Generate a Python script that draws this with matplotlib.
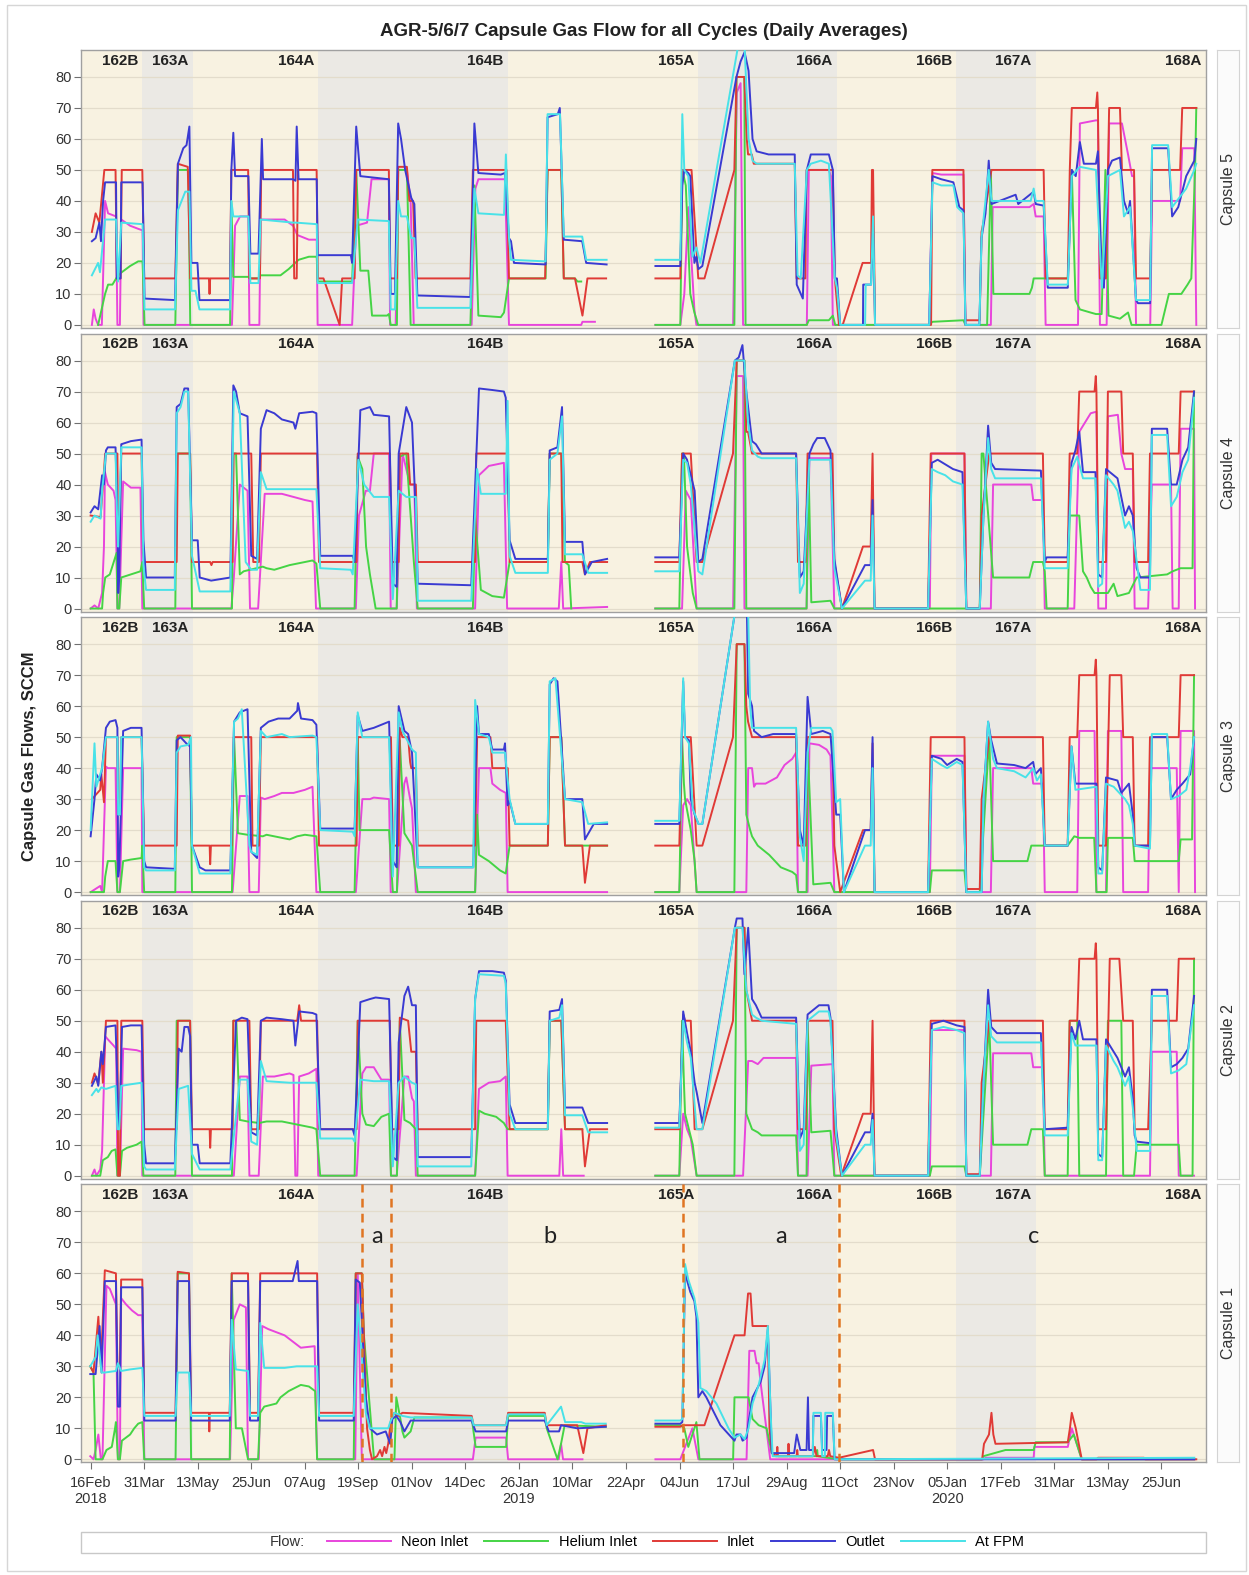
import datetime as dt
import numpy as np
import matplotlib
matplotlib.use("Agg")
import matplotlib.pyplot as plt
from matplotlib.lines import Line2D
from matplotlib.patches import Rectangle

plt.rcParams["font.family"] = ["Liberation Sans", "DejaVu Sans"]

NAN = float("nan")
START = dt.date(2018, 2, 16)          # x values below are days after this date
X_LIM = (-7.5, 895.8)
Y_LIM = (-1, 88.7)

CYCLE_LABELS = ["162B", "163A", "164A", "164B", "165A", "166A", "166B", "167A", "168A"]
CYCLE_ENDS = [41.5, 82.3, 182.9, 335.2, 488, 599.3, 695.4, 759, 895.8]
TICK_DAYS = list(range(0, 861, 43))

EVENT_DAYS = [218, 241.6, 475.8, 601]                  # orange dashed lines, capsule 1
EVENT_NOTES = [(230, "a"), (368.6, "b"), (554.2, "a"), (757.4, "c")]

SERIES = ["Neon Inlet", "Helium Inlet", "Inlet", "Outlet", "At FPM"]
COLORS = ["#e845dc", "#45d445", "#e03a36", "#3a3ad2", "#48e2e8"]

# ---------------- Capsule 5 ----------------
CAP5_NEON = [(1,0),(2.5,5),(4,2),(6,0),(9,0),(11.6,40),(14,36),(20.4,35),(21.5,0),(23.5,0),(24.6,34),(31.7,32),(38.2,31),(41.7,30.5),(42.5,0),(113.5,0),(116,32),(120,35),(126.7,35),(127.5,0),(135.5,0),(136.5,34),(155.8,34),(162.6,32),(166,29),(175.3,27.5),(181.6,27.5),(182.3,0),(210,0),(213.3,32),(222,33),(225.6,47),(239.5,47),(240.5,0),(245,0),(247,50),(254,50),(257,40),(259.5,0),(306,0),(309,44),(311.4,47),(332.7,47),(336,0),(394,0),(395,1),(405,1),
             (430,NAN),
             (453.6,0),(473.6,0),(476.8,10),(480,38),(484.9,5),(486.5,0),(516,0),(519,75),(522,78),(524,0),(575.2,0),(576.8,50),(592.9,50),(594.5,48),(596.1,0),(673.5,0),(676.1,49),(683.2,48.5),(701,48.5),(702.6,0),(723,0),(724.5,38),(754,38),(757.4,39),(759,35),(765.4,35),(767,0),(793,0),(794.5,65),(807.4,66),(809,66),(810.6,0),(816,0),(818,65),(828.3,65),(833.2,55),(836.4,48),(838,48),(839.6,0),(851,0),(852.5,40),(875,40),(876.7,57),(886.4,57),(888,0)]
CAP5_HELIUM = [(6,0),(11.6,10),(14,13),(17.5,13),(22,16),(25,17),(31.7,19),(38.2,20.5),(41.7,20.5),(43.3,0),(68,0),(70.1,50),(78.5,50),(80,0),(112,0),(113,40),(114.6,15.5),(126.7,15.5),(128.3,15),(134.8,15),(136.5,16),(152.5,16),(159,18),(167,21),(175.3,22),(181.6,22),(182.3,14),(210,14),(213.3,50),(216.6,17.5),(223,17.5),(226,3),(238,3),(239.5,3.5),(241,0),(246,0),(247,50),(254,50),(257,0),(305,0),(308.2,45),(311.4,3),(329.4,2.5),(332,4),(336,15),(365.4,15),(367,50),(378,50),(380,15),(389,15),(391,14),(394,14),
               (430,NAN),
               (453.6,0),(473.6,0),(475.2,50),(478,45),(481.6,10),(484.9,4),(488,0),(517,0),(518.7,80),(525,80),(526,0),(575.2,0),(576.8,1.5),(592.9,1.5),(596.1,3),(598,0),(673.5,0),(676.1,1),(701,1.5),(702.6,0),(720,0),(723,50),(725,10),(754,10),(756,12),(757.4,15),(784.8,15),(788,50),(791,8),(794.5,5),(803,4),(807.4,3.5),(812,3.5),(815,50),(817.5,3),(826.7,2),(829.9,3),(833.2,4),(836,0),(860,0),(866,10),(876,10),(881,13),(884,15),(887,50),(888,70)]
CAP5_INLET = [(1,30),(4,36),(7,33),(11,50),(20,50),(21,15),(24,15),(25,50),(41.5,50),(43,15),(68,15),(70,52),(78,51),(80,15),(95,15),(95.5,10),(96,15),(112,15),(113,50),(126.5,50),(127.5,15),(136,15),(137,50),(162.5,50),(163.5,15),(165.5,15),(166.5,50),(181.5,50),(182.5,15),(187,15),(200,0),(202,15),(212,15),(213.3,50),(239.5,50),(240.5,15),(246,15),(247,51),(254,51),(256,40),(259,40),(261,15),(305,15),(307,50),(334,50),(336,15),(365,15),(367,50),(378,50),(380,15),(389,15),(395,3),(399,15),(414,15),
              (430,NAN),
              (453.6,15),(473.6,15),(475,50),(482.6,50),(488,15),(493,15),(517,50),(518.7,80),(525,80),(527,60),(528,55),(531,55),(532.6,52),(565.5,52),(567,15),(574,15),(575,50),(596,50),(597.7,15),(601,0),(604,0),(620,20),(626.8,20),(627.5,50),(628.4,50),(630,0),(675,0),(676,50),(701,50),(702.5,1.5),(714,1.5),(715.5,30),(717,33),(723.5,50),(765.4,50),(767,15),(784.8,15),(786.4,50),(788,70),(807.4,70),(808.5,75),(809,70),(810.6,15),(815.4,15),(818,70),(826.7,70),(828.3,50),(838,50),(839.6,15),(850.9,15),(852.5,50),(875,50),(876.7,70),(888,70)]
CAP5_OUTLET = [(1,27),(4,28),(7,33),(8.3,27),(10,40),(11.6,46),(20.4,46),(21,15),(24,15),(24.6,46),(41.7,46),(43.3,8.5),(67.8,8),(70.1,52),(74.4,57),(77,58),(79.3,64),(80.9,20),(85.8,20),(87.4,8),(112,8),(113,50),(114.6,62),(116,48),(126.7,48),(128.3,23),(134.8,23),(136.5,47),(137.5,60),(138.5,47),(162.6,47),(164.5,46.5),(165.5,64),(167,47),(181.6,47),(182.3,22.5),(209,22.5),(210,20),(213.3,64),(216.6,48),(239.5,47),(241,10),(244.4,10),(247,65),(249.3,60),(252.6,50),(257.5,41),(260,39),(262.4,9.5),(305,9),(308.2,65),(311.4,49),(329.4,48.5),(332.7,49),(336,28),(337.6,27),(340,20),(365.4,19.5),(367,67),(375.2,68),(376.8,70),(380,27.5),(394.8,27),(398,20),(414.4,19.5),
               (430,NAN),
               (453.6,19),(473.6,19),(475.2,45),(476.8,50),(480,49),(481.6,48),(484.9,20),(486.5,22),(488.1,18),(491.3,19),(518.7,80),(522,85),(525.2,88),(528.4,82),(531.6,60),(534.9,56),(544.5,55),(565.5,55),(567.1,13),(572,8.5),(575.2,50),(578.4,55),(592.9,55),(596.1,50),(597.7,15),(599.4,15),(602,0),(620.3,0),(620.5,13),(626.8,13),(628.4,32),(630,0),(673.5,0),(676.1,48),(683.2,47),(692.9,46),(697.7,38),(701,37),(702.6,0),(713.8,0),(715.5,28),(718.7,36),(721.3,53),(723.5,39),(742.9,42),(745,39),(757.4,43),(759,39),(765.4,38.5),(768.7,12),(784.8,12),(788,50),(791.2,48),(794.5,59),(797.7,52),(807.4,52),(809,56),(812.2,15),(813.8,12),(817,50),(820.3,53),(826.7,54),(829.9,40),(833.2,36),(834.8,40),(839.6,8),(841.2,7),(850.9,7),(852.5,57),(865.4,57),(868.6,35),(873.5,38),(879.9,48),(886.4,53),(888,60)]
CAP5_FPM = [(1,16),(6,20),(7.5,17),(11.6,34),(20.4,34),(22,14),(24.6,33),(41.7,32.5),(43.3,5),(67.8,5),(70.1,37),(76,43),(79.3,43),(80.9,11),(84.2,11),(87.4,5),(112,5),(113,40),(114.6,35),(126.7,35),(128.3,13.5),(134.8,13.5),(136.5,34),(162.6,33),(165,33),(181.6,32.5),(182.3,13.5),(210,13.5),(214.5,34),(239.5,33.5),(241,5),(244.4,5),(247,40),(249.3,35),(254,35),(257.5,28),(260,28),(262.4,5.5),(305,5.5),(308.2,44),(311.4,36),(332,35.5),(333.5,55),(336,28),(337.6,21),(365.4,20.5),(367,68),(377,68),(380,28.5),(394.8,28.5),(398,21),(414.4,21),
            (430,NAN),
            (453.6,21),(473.6,21),(475.2,68),(476.8,50),(480,48),(483.3,22),(486.5,25),(489.7,20),(520,90),(525.2,90),(528.4,60),(531.6,53),(534.9,52),(565.5,52),(567.8,16),(570.3,15),(575.2,50),(578.4,52),(586.5,53),(592.9,52),(597.7,15),(599.4,12),(602,0),(622,0),(622.5,13),(626.8,13),(628.4,35),(630,0),(673.5,0),(676.1,46),(683.2,45),(692.9,45),(696,38),(701,36),(702.6,0),(713.8,0),(715.5,28),(721.3,50),(723.5,40),(755,40),(757.4,44),(759,40),(765.4,40),(768.7,13),(784.8,13),(788,48),(794.5,51),(807.4,50),(812.2,12),(817,48),(826.7,50),(829.9,35),(834.8,38),(839.6,8),(850.9,8),(852.5,58),(865.4,58),(868.6,38),(879.9,44),(886.4,50),(888,52)]

# ---------------- Capsule 4 ----------------
CAP4_NEON = [(0,0),(3.1,1),(6.1,0),(9.2,5),(10.7,20),(11.5,44),(13.8,40),(18.4,38),(20,35),(21.5,0),(23,0),(26.1,41),(29.2,40),(32.3,39),(40,39),(41.5,0),(113,0),(115,10),(119.8,40),(126,38),(128,0),(134.5,0),(139.8,37),(153.6,37),(162.9,36),(172.1,35),(178.2,34.5),(181,0),(213,0),(215.5,30),(221,38),(224.3,38),(227.4,50),(239.7,50),(241,0),(245.8,0),(250.5,50),(253.5,45),(256.6,40),(260,40),(262,0),(308.8,0),(311.9,43),(319.8,46),(331.9,47),(334.5,0),(376,0),(378,15),(379.5,0),(414.8,0.5),
             (430,NAN),
             (453.5,0),(472.8,0),(475,0),(478,38),(482,35),(486.7,0),(516,0),(518.9,75),(524,75),(525.1,0),(575,0),(577.3,48.5),(594.2,48.5),(597.3,0),(674,0),(675.2,50),(701.8,50),(703.3,0),(723,0),(724.8,40),(755.5,40),(757,35),(764.8,35),(766.3,0),(790,0),(794,57),(803.2,63),(807.8,63.5),(809.3,0),(815.5,0),(817,62),(825,62.5),(827.8,50),(830.8,45),(837,45),(838.5,0),(849.3,0),(852.3,40),(867.7,40),(869,0),(873.9,0),(875.4,58),(886.2,58),(887,0)]
CAP4_HELIUM = [(0,0),(9.2,0),(10,5),(11.7,10),(15.4,11),(20.9,18),(21.5,0),(23,0),(24.6,10),(32.3,11),(40,12),(41.5,15),(43,0),(68,0),(69.1,50),(79.9,50),(81.4,0),(113.5,0),(114.6,50),(116.8,50),(119.8,11),(122.9,12),(138.3,13.5),(141.3,13),(147.5,12.5),(159.8,14),(172.1,15),(178.2,15.5),(181.3,14.5),(184.4,0),(212,0),(214.5,49),(218.2,45),(221.2,20),(224.3,11),(228.9,0),(245.8,0),(248.3,49),(253.5,50),(259.6,15),(262.7,0),(307,0),(308.8,30),(313.4,6),(322.6,4),(331.9,3.5),(336.5,15),(367.2,15),(368.7,50),(378,50),(381,15),(384,14),(386,0),
               (430,NAN),
               (453.5,0),(472.8,0),(475,50),(476.5,50),(479,20),(483.6,5),(486.7,0),(517,0),(518.9,80),(525.1,80),(526.6,0),(575,0),(576.5,48),(578.8,2),(594.2,2.5),(597.3,0),(714.1,0),(715.6,50),(717,50),(724.8,10),(753.9,10),(757,15),(764.8,15),(766.3,12),(767.8,0),(784.7,0),(786.3,30),(794,30),(797,12),(800,10),(803.2,7),(806.3,5),(809.3,5),(817,5),(821.6,8),(824.7,4),(833.9,5),(840.1,10),(864.6,11),(869,12),(875.4,13),(885,13),(886.2,70)]
CAP4_INLET = [(0,30),(8,29.5),(11.7,50),(21.5,50),(22,22),(23,22),(24.6,50),(40.9,50),(42,18),(43,15),(69.1,15),(70,50),(79.9,50),(81.4,15),(96,15),(97,14),(98,15),(114,15),(114.8,50),(129,50),(130.6,15),(135.2,15),(136.7,50),(181.9,50),(183.4,15),(213.6,15),(214.5,50),(240.3,50),(241.8,15),(247.4,15),(248.3,50),(255,50),(256.6,40),(261.2,40),(262.7,15),(308.8,15),(309.7,50),(335,50),(336.5,15),(367.2,15),(368.7,50),(378,50),(379,15),(394.9,15),(397,11),(401,15),(414.8,15),
              (430,NAN),
              (453.5,15),(472.8,15),(475,50),(482,50),(486.7,15),(491.3,15),(515.9,50),(518.9,80),(525.1,80),(526.6,57),(528,57),(531.2,50),(566.6,50),(568.1,15),(574.2,15),(575.8,50),(595.8,50),(597.3,15),(603.4,0),(620.3,20),(626.5,20),(628,50),(629.6,0),(672.6,0),(674.7,50),(701.8,50),(703.3,0),(714.1,0),(715.6,30),(721.7,50),(764.8,50),(766.3,15),(784.7,15),(786.3,50),(792.4,50),(794,70),(806.3,70),(807.3,75),(807.8,70),(809.3,15),(815.5,15),(817,70),(827.8,70),(829.3,50),(837,50),(838.5,15),(849.3,15),(850.8,50),(873.9,50),(875.4,70),(886.2,70)]
CAP4_OUTLET = [(0,31),(3.1,33),(6.1,32),(9.2,43),(10.7,40),(12.3,51),(13.8,52),(20,52),(21.5,30),(22.1,5),(23,10),(24.6,53),(32.3,54),(40.9,54.5),(42.4,22),(44.5,10),(67.6,10),(69.1,65),(72.2,66),(75.3,71),(78.3,71),(81.4,22),(86,22),(87.6,10),(92.2,9.5),(96.8,9),(112.2,10),(114.6,72),(116.8,70),(119.8,63),(126,62),(129,17),(133.7,16),(136.7,58),(141.3,64),(147.5,63),(153.6,61),(162.9,60),(164.4,58),(167.5,63),(178.2,63.5),(181.3,63),(184.4,17),(210.5,17),(212,15),(216.6,64),(224.3,65),(227.4,62.5),(239.7,62),(242.7,8),(245.8,7),(247.4,50),(253.5,65),(258.1,60),(261.2,30),(262.7,8),(305.7,7.5),(311.9,71),(322.6,70.5),(331.9,70),(333.4,68),(336.5,22),(341.1,16),(367.2,16),(368.7,51),(374.9,52),(378.6,65),(381,21.5),(394.9,21.5),(397,11),(402.5,15),(414.8,16),
               (430,NAN),
               (453.5,16.5),(472.8,16.5),(475.9,50),(479,48),(482,43),(485.1,38),(488,15),(491.3,16),(517.4,80),(520.5,81),(523.5,85),(526.6,70),(531.2,54),(534.3,53),(538.9,50),(566.6,50),(569.6,10),(572.7,12),(577.3,50),(580.4,53),(583.5,55),(589.6,55),(594.2,51),(597.3,16),(603.4,0),(621.9,14),(626.5,14),(628,35),(629.6,0),(672.6,0),(675.6,47),(680.3,48),(686.4,46.5),(692.6,45),(700.2,44),(703.3,0),(714.1,0),(717.1,30),(720.8,59),(723.3,47),(726.4,45),(763.2,44.5),(766.3,15),(767.8,16.5),(784.7,16.5),(787.8,47),(790.9,51),(794,57),(797,44),(807,44),(809.3,11),(812.4,10),(815.5,45),(821.6,43),(824.7,42),(830.8,30),(833.9,33),(837,30),(840.1,13),(843.1,10),(850.8,10),(852.3,58),(864.6,58),(867.7,40),(872.3,40),(876.9,48),(881.5,52),(886.2,70)]
CAP4_FPM = [(0,28),(3.1,30),(8,29),(9.2,38),(12.3,50),(20,50),(21.5,25),(22.1,20),(24.6,52),(40.9,52),(42.4,14),(44.5,6),(67.6,6),(69.1,63),(72.2,65),(75.3,70),(78.3,70),(81.4,17),(87.6,5.5),(112.2,5.5),(115,70),(119.8,63),(124.5,15),(129,12.5),(133.7,12.5),(136.7,44),(141.3,38.5),(181.3,38.5),(184.4,13),(209,12.5),(210.5,11),(215,48),(219.7,40),(227.4,36),(239.7,36),(242.7,3),(247.4,38),(253.5,36),(261.2,36),(262.7,2.5),(305.7,2.5),(310.4,45),(313.4,37),(333.4,37),(334.9,67),(336.5,17),(341.1,11.5),(367.2,11.5),(368.7,48),(374.9,50),(378.6,62),(381,17.5),(394.9,17.5),(399.6,11.5),(414.8,11.5),
            (430,NAN),
            (453.5,12),(472.8,12),(475.9,48),(479,47),(482,40),(488,12),(491.3,11),(517.4,80),(525.1,80),(528,60),(531.2,51),(535.8,49),(538.9,48.5),(566.6,48.5),(569.6,5),(572.7,8),(577.3,48),(594.2,48),(597.3,13),(603.4,0),(621.9,9),(626.5,9),(628,30),(629.6,0),(672.6,0),(675.6,45),(680.3,44),(686.4,43),(692.6,41),(700.2,40),(703.3,0),(714.1,0),(717.1,30),(720.8,55),(723.3,45),(726.4,42),(763.2,42),(766.3,13),(784.7,13),(787.8,45),(792.4,49),(797,42),(807,42),(809.3,7),(812.4,8),(815.5,43),(821.6,40),(824.7,38),(830.8,26),(833.9,28),(837,25),(843.1,6),(850.8,6),(852.3,56),(864.6,56),(867.7,33),(872.3,36),(876.9,44),(881.5,48),(886.2,68)]

# ---------------- Capsule 3 ----------------
CAP3_NEON = [(0,0),(7.7,2),(9.2,0),(10.7,20),(12.3,40.5),(13.8,40),(20,40),(21.5,0),(23.5,0),(26.1,40),(40.9,40),(41.5,0),(114,0),(119.8,31),(126,31),(127.5,0),(135,0),(136.7,30.5),(139.8,30),(147.5,31),(153.6,32),(162.9,32),(172.1,33),(178.2,34),(181.3,0),(213,0),(218.2,30),(224.3,30),(227.4,30.5),(239.7,30),(241,0),(246,0),(251.9,35),(253.5,37),(256.6,30),(258.1,27),(261.2,0),(308.8,0),(311.9,40),(321.1,40),(322.6,35),(328.8,33),(333.4,32),(334.9,0),(414.8,0),
             (430,NAN),
             (453.5,0),(472.8,0),(475.9,28),(479,30),(482,28),(486.7,0),(526.6,0),(528.1,40),(531.2,40),(532.8,34),(534.3,35),(542,35),(551.2,37),(557.3,41),(563.5,43),(566.6,45),(568.1,0),(575.8,0),(577.3,48),(585,47.5),(591.1,46),(594.2,44),(597.3,0),(674,0),(675.6,44),(701.8,44),(703.3,0),(723,0),(724.8,40),(755.5,40),(757,35),(764.8,35),(766.3,0),(792.4,0),(794,52),(806.3,52),(807.8,0),(815.5,0),(817,52),(827.8,52),(829.3,0),(849.3,0),(850.8,40),(872.3,40),(873.9,0),(875.4,52),(886.2,52),(887,0)]
CAP3_HELIUM = [(0,0),(10.7,0),(11.7,5),(13.8,10),(20,10),(21.5,0),(23.5,0),(26.1,10),(32.3,10.5),(40.9,11),(41.5,15),(43,0),(68,0),(69.1,50),(79.9,50),(81.4,0),(113.5,0),(115.2,50),(118.3,19),(126,18.5),(138.3,18),(141.3,18.5),(153.6,17.5),(159.8,17),(165.9,18),(172.1,18.5),(181.3,18),(184.4,0),(212,0),(214.5,50),(216,20),(239.7,20),(242.7,0),(246,0),(248.3,49),(252,19),(258.1,15),(262.7,0),(308.8,0),(310.4,25),(311.9,12),(319.8,10),(328.8,7),(333.4,6),(336.5,15),(367.2,15),(368.7,50),(378,50),(381,15),(414.8,15),
               (430,NAN),
               (453.5,0),(472.8,0),(475,50),(476.5,35),(477.4,30),(482,20),(485.1,10),(486.7,0),(517,0),(518.9,80),(525.1,80),(526.6,25),(529.7,20),(531.2,18),(535.8,15),(545,12),(554.3,8),(563.5,6.5),(566.6,5.5),(568.1,0),(575,0),(575.8,48),(580.4,2.5),(594.2,3),(597.3,0),(674,0),(675.6,7),(701.8,7),(703.3,0),(714.1,0),(721.7,50),(724.8,10),(752.4,10),(755.5,15),(784.7,15),(790,18),(794,17.5),(806,17.5),(807.8,0),(816,0),(817,17.5),(837,17.5),(838.5,10),(873.9,10),(875.4,17),(884.6,17),(886.2,70)]
CAP3_INLET = [(1,30),(7.7,33),(8.6,38),(10.7,29),(12.3,50),(21.5,50),(22.1,25),(23.5,25),(24.6,50),(40.9,50),(43,15),(69.1,15),(70,50.5),(79.9,50.5),(81.4,15),(95.6,15),(96,9),(96.6,15),(113.2,15),(115,50),(129,50),(130,15),(135.2,15),(136.7,50),(181.9,50),(183.4,15),(213.6,15),(214.5,50),(241.2,50),(242.7,15),(247.4,15),(248.3,53),(250.4,50),(255,50),(256.6,42),(257.5,40),(261.2,40),(262.7,15),(308.8,15),(310.4,50),(321.1,50),(322.6,40),(335,40),(336.5,15),(367.2,15),(368.7,50),(378,50),(381,15),(394.9,15),(397,3),(401,15),(414.8,15),
              (430,NAN),
              (453.5,15),(472.8,15),(475,50),(482,50),(486.7,15),(491.3,15),(515.9,50),(518.9,80),(525.1,80),(526.6,60),(528,55),(531.2,50),(566.6,50),(568.1,15),(574.2,15),(575.8,50),(595.8,50),(597.3,15),(602,0),(620.3,20),(626.5,20),(628,48),(629.6,0),(672.6,0),(674.7,50),(701.8,50),(703.3,1),(714.1,1),(715.6,30),(721.7,50),(764.8,50),(766.3,15),(784.7,15),(786.3,50),(792.4,50),(794,70),(806.3,70),(807.3,75),(807.8,70),(809.3,15),(815.5,15),(818.5,70),(827.8,70),(829.3,50),(837,50),(838.5,15),(849.3,15),(850.8,50),(873.9,50),(875.4,70),(886.2,70)]
CAP3_OUTLET = [(0,18),(3.1,30),(4.6,38),(7.7,36),(9.2,40),(12.3,53),(15.4,55),(20,55.5),(21.5,53),(22.1,5),(23,8),(26.1,52),(32.3,53),(40.9,53),(43,10),(44.5,8),(67.6,7.5),(69.1,49),(72.2,50),(76.8,48),(79.9,47),(81.4,15),(87.6,8),(92.2,7),(112.2,7),(115.2,55),(119.8,58),(126,59),(129,13),(133.7,11),(136.7,53),(142.9,55),(150.6,56),(159.8,56),(165.9,58.5),(166.5,61),(169,56),(178.2,55.5),(181.3,54),(184.4,20.5),(212,20.5),(214.5,57),(218.2,52),(227.4,53),(236.6,54.5),(239.7,55),(242.7,10),(245.8,8),(247.4,60),(252,52),(255,51),(258.1,45),(262.7,8),(307.3,8),(310.4,60),(311.9,51),(319.8,51),(322.6,46),(331.9,46),(332.8,48),(334.9,28),(336.5,29.5),(341.1,22),(367.2,22),(368.7,67),(371.8,69),(374.9,68),(381,30),(394.9,30),(397,17),(404.1,22),(414.8,22),
               (430,NAN),
               (453.5,22),(472.8,22),(475.9,68),(477.4,50),(480.5,49),(482,30),(485.1,25),(488.2,22),(491.3,22),(517.4,90),(527.1,90),(528.1,64),(531.2,60),(532.8,52),(538.9,50),(548.1,51),(566.6,51),(569.6,20),(572.7,15),(575.8,63),(578.8,51),(588,52),(594.2,51),(598.8,25),(602,25),(605,0),(621.9,20),(626.5,20),(628,50),(629.6,0),(672.6,0),(675.6,44),(683.3,43),(687.9,41),(695.6,43),(700.2,42),(703.3,0),(715.6,0),(717.1,30),(720.8,55),(723.3,49),(727.9,41.5),(741.7,41),(750.9,40),(757,42),(758.6,38),(763.2,40),(766.3,15),(784.7,15),(787.8,47),(790.9,35),(807.8,35),(809.3,8),(812.4,7),(815.5,37),(824.7,36),(827.8,32),(833.9,35),(837,25),(838.5,15),(850.8,15),(852.3,50),(864.6,50),(867.7,30),(872.3,33),(876.9,35),(883.1,38),(886.2,50)]
CAP3_FPM = [(0,20),(3.1,48),(4.6,34),(6.1,36),(9.2,40),(12.3,50),(21.5,50),(22.1,25),(23.5,25),(24.6,50),(40.9,50),(43,8),(44.5,7),(67.6,7),(69.1,45),(72.2,47),(78.3,47.5),(80.5,50),(81.4,15),(87.6,6),(112.2,6),(115.2,55),(118.3,56),(121.4,59),(127.5,15),(129,13),(133.7,12),(136.7,52),(141.3,50),(153.6,51),(159.8,50),(178.2,50.5),(181.3,50),(184.4,20),(210.5,19.5),(212,18),(214.5,58),(218.2,50),(239.7,50),(242.7,5),(247.4,58),(250.4,52),(258.1,46),(261.2,45),(262.7,8),(307.3,8),(308.8,62),(311.9,51),(319.8,50),(322.6,45),(332.8,45),(336.5,30),(341.1,22),(367.2,22),(368.7,68),(373.3,69),(381,30),(394.9,29),(399.6,22),(414.8,22.5),
            (430,NAN),
            (453.5,23),(472.8,23),(475.9,69),(477.4,50),(480.5,48),(483.6,27),(488.2,22),(491.3,22),(517.4,90),(528.1,90),(529.7,60),(531.2,53),(566.6,53),(569.6,18),(572.7,10),(575.8,45),(578.8,53),(594.2,53),(595.8,52),(598.8,29),(602,30),(605,0),(621.9,15),(626.5,15),(628,40),(629.6,0),(672.6,0),(675.6,43),(683.3,41),(687.9,40),(695.6,42),(700.2,41),(703.3,0),(715.6,0),(717.1,30),(720.8,55),(724.8,43),(727.9,40),(741.7,39),(750.9,37),(757,40),(760,36),(763.2,38),(766.3,15),(784.7,15),(787.8,47),(790.9,33),(807.8,34),(809.3,6),(812.4,6),(815.5,35),(821.6,34),(830.8,30),(833.9,28),(837,22),(838.5,15),(850.8,14),(852.3,51),(864.6,51),(867.7,30),(873.9,31),(880,33),(883.1,40),(886.2,50)]

# ---------------- Capsule 2 ----------------
CAP2_NEON = [(1,0),(3.1,2),(4.6,0),(7.7,2),(9.2,8),(11.7,45),(13.8,44),(18.4,42),(20.5,41),(21.5,0),(23.5,0),(26.1,41),(36.9,40.5),(40.9,40),(41.5,0),(115,0),(119.8,32),(126,32),(127.5,0),(135,0),(138.3,32),(147.5,32),(159.8,33),(162.9,32.5),(164.4,0),(166,0),(167.5,32),(175.2,33),(181.3,34.5),(182.8,0),(213.6,0),(218.2,33),(221.2,35),(227.4,35),(233.5,31),(239.7,31),(241.2,0),(245.8,0),(252,32),(255,32),(258.1,25),(259.6,24),(261.2,0),(308.8,0),(311.9,28),(319.8,30),(328.8,30.5),(333.4,32),(334.9,0),(376.4,0),(378,15),(379.5,0),(396,0),
             (430,NAN),
             (453.5,0),(472.8,0),(475.9,20),(479,15),(482,12),(486.7,0),(524,0),(528.1,37),(531.2,37),(535.8,36),(540.4,38),(566.6,38),(568.1,0),(575.8,0),(578.8,35.5),(595.8,36),(597.3,0),(674,0),(675.6,47),(701.8,47),(703.3,0),(723,0),(724.8,39.5),(755.5,39.5),(757,35),(764.8,35),(766.3,0),(850.8,0),(852.3,40),(872.3,40),(873.9,0),(886.2,0)]
CAP2_HELIUM = [(1,0),(7.7,0),(9.8,5),(13.8,6),(16.9,8),(20,8.5),(21.5,0),(23.5,0),(25.2,8),(29.2,9),(36.9,10),(40.9,11),(42.4,0),(68,0),(69.1,50),(79.9,50),(81.4,0),(113.5,0),(114.6,50),(117,50),(119.8,18),(126,17.5),(135.2,17),(141.3,17.5),(153.6,17.5),(159.8,17),(165.9,16.5),(172.1,16),(178.2,15.5),(181.3,15),(184.4,0),(212,0),(214.5,50),(218.2,20),(221.2,16.5),(227.4,16),(233.5,19),(239.7,20),(241.2,0),(246,0),(248.3,50),(252,18),(256.6,17),(261.2,15),(262.7,0),(308.8,0),(311.9,21),(316.5,20),(325.7,19),(331.9,17),(334.9,15),(367.2,15),(368.7,50),(378,50),(381,15),(394.9,15),
               (430,NAN),
               (453.5,0),(472.8,0),(475,50),(476.5,30),(477.4,20),(483.6,10),(486.7,0),(517,0),(518.9,80),(525.1,80),(526.6,20),(531.2,15),(535.8,14),(538.9,13),(566.6,13),(568.1,0),(575,0),(575.8,50),(578.8,14),(594.2,14.5),(597.3,0),(674,0),(675.6,3),(701.8,3),(703.3,0),(714.1,0),(721.7,50),(724.8,10),(752.4,10),(755.5,15),(764.8,15),(766.3,0),(784.7,0),(786.3,50),(792.4,50),(794,0),(815.5,0),(817,50),(827.8,50),(829.3,0),(838,0),(840.1,10),(873.9,10),(875.4,0),(885,0),(886.2,70)]
CAP2_INLET = [(1,30),(3.1,33),(6.1,29.5),(8.6,40),(9.8,30),(12.3,50),(21.5,50),(22.1,0),(23.5,0),(24.6,50),(41.5,50),(43,15),(69.1,15),(70,50),(79.9,50),(81.4,15),(95.6,15),(96,9),(96.6,15),(114,15),(114.6,50),(127.5,50),(129,15),(135.2,15),(136.7,50),(165.9,50),(167.5,55),(169,50),(181.9,50),(183.4,15),(213.6,15),(214.5,50),(240.3,50),(241.8,15),(247.4,15),(248.3,51),(255,50),(257.5,40),(261.2,40),(262.7,15),(308.8,15),(309.7,50),(333.4,50),(336.5,15),(367.2,15),(368.7,50),(378,50),(381,15),(394.9,15),(397,3),(401,15),(414.8,15),
              (430,NAN),
              (453.5,15),(472.8,15),(475.9,52),(477.4,50),(482,50),(485.1,15),(491.3,15),(515.9,50),(518.9,80),(525.1,80),(526.6,60),(531.2,50),(566.6,50),(568.1,15),(574.2,15),(575.8,50),(595.8,50),(597.3,15),(602.8,0),(620.3,20),(626.5,20),(628,50),(629.6,0),(672.6,0),(674.7,50),(701.8,50),(703.3,0.5),(714.1,0.5),(715.6,30),(721.7,50),(764.8,50),(766.3,15),(784.7,15),(786.3,50),(792.4,50),(794,70),(806.3,70),(807.3,75),(807.8,70),(809.3,15),(815.5,15),(818.5,70),(826.2,70),(829.3,50),(837,50),(838.5,15),(849.3,15),(852.3,50),(872.3,50),(873.9,70),(886.2,70)]
CAP2_OUTLET = [(1,29),(4.6,32),(6.1,29),(8.6,40),(9.8,36),(12.3,48),(20,48.5),(21.5,30),(22.1,15),(23.5,20),(25.2,48),(32.3,48.5),(40.9,48.5),(43,10),(44.5,4),(67.6,4),(70.7,41),(73.1,40),(75.3,48),(78.3,48),(79.9,45),(81.4,10),(86,10),(87.6,4),(112.2,4),(116.8,50),(121.4,51),(126,50.5),(129,14),(133.7,13),(136.7,50),(141.3,51),(153.6,50.5),(162.9,50),(164.4,42),(167.5,53),(178.2,52.5),(181.3,52),(184.4,15),(210.5,15),(212,13),(216.6,56),(224.3,57),(228.9,57.5),(239.7,57),(242.7,6),(245.8,5),(247.4,43),(252,58),(255,61),(258.1,55),(261.2,55),(262.7,6),(305.7,6),(308.8,57),(311.9,66),(322.6,66),(331.9,65.5),(333.4,63),(336.5,23),(341.1,17),(367.2,17),(368.7,53),(376.4,53.5),(378.6,57),(381,22),(394.9,22),(399.6,17),(414.8,17),
               (430,NAN),
               (453.5,17),(472.8,17),(475.9,53),(479,46),(482,40),(485.1,30),(486.7,27),(491.3,17),(517.4,80),(518.9,83),(523.5,83),(525.1,65),(528.1,80),(531.2,57),(534.3,55),(538.9,51),(566.6,51),(569.6,12),(572.7,15),(575.8,52),(585,55),(592.6,55),(594.2,51),(598.8,15),(603.4,0),(621.9,14),(626.5,14),(628,20),(629.6,0),(672.6,0),(675.6,49),(684.9,50),(695.6,48.5),(701.8,48),(703.3,0),(714.1,0),(717.1,30),(720.8,60),(723.3,48),(727.9,46),(763.2,46),(766.3,15),(784.7,15.5),(787.8,48),(790.9,44),(794,50),(797,44),(807.8,44),(809.3,7),(812.4,6),(815.5,44),(821.6,40),(824.7,38),(830.8,32),(833.9,35),(837,25),(838.5,13),(840.1,11),(850.8,10.5),(852.3,60),(864.6,60),(867.7,35),(872.3,36),(876.9,38),(881.5,41),(886.2,58)]
CAP2_FPM = [(1,26),(4.6,28),(6.1,27),(8.6,28.5),(12.3,28),(20,29),(21.5,15),(23,15),(24.6,29),(32.3,29.5),(40.9,30),(43,3),(44.5,2),(67.6,2),(70.7,28),(78.3,29),(81.4,7),(87.6,2),(112.2,2),(119.8,31),(126,31),(129,11),(133.7,10),(136.7,37),(141.3,30.5),(159.8,30),(181.3,30),(184.4,12),(210.5,12),(212,11),(216.6,31),(227.4,30.5),(239.7,30.5),(242.7,3),(247.4,30),(252,32),(258.1,30),(261.2,29.5),(262.7,3),(305.7,3),(308.8,57),(311.9,65),(331.9,64.5),(333.4,62),(336.5,20),(341.1,15),(367.2,15),(368.7,50),(376.4,51),(378.6,55),(381,19.5),(394.9,19.5),(399.6,14),(414.8,14),
            (430,NAN),
            (453.5,15.5),(472.8,15.5),(475.9,50),(479,43),(482,38),(486.7,15),(491.3,15),(517.4,80),(523.5,80),(526.6,60),(531.2,52),(534.3,51),(538.9,50),(566.6,49),(569.6,8),(572.7,10),(575.8,50),(585,53),(592.6,53),(594.2,50),(598.8,13),(603.4,0),(621.9,10),(626.5,10),(628,18),(629.6,0),(672.6,0),(675.6,47),(684.9,48),(695.6,47),(701.8,46),(703.3,0),(714.1,0),(717.1,30),(720.8,55),(723.3,45),(727.9,43),(763.2,43),(766.3,13),(784.7,13),(787.8,46),(790.9,42),(807.8,42),(809.3,5),(812.4,5),(815.5,42),(821.6,37),(824.7,35),(830.8,29),(833.9,32),(837,22),(840.1,8),(850.8,8),(852.3,58),(864.6,58),(867.7,33),(873.9,34),(880,36),(886.2,55)]

# ---------------- Capsule 1 ----------------
CAP1_NEON = [(-0.3,1),(2.3,0),(4,3),(6.2,8),(8.2,0),(9.5,0),(12.7,56),(15.4,55),(20.3,50),(21.9,0),(23.5,0),(24.5,52),(28.4,50),(33.3,48),(38.2,46.5),(41.5,46.5),(43.1,0),(112,0),(114.9,45),(119.8,50),(124.7,49),(126.4,0),(135,0),(137.8,43),(142.7,42),(149.2,41),(155.8,40),(162.3,38),(168.8,36),(179.9,36.5),(181.9,0),(212.5,0),(214.5,60),(217.8,0),(307,0),(309.2,7),(333.7,7),(335.3,0),(376,0),(377.8,5),(379.4,0),(395,0),
             (430,NAN),
             (453.6,0),(473.6,0),(478.4,5),(483.3,10),(488.1,0),(526.8,0),(529,35),(533.2,35),(534.9,31),(536.5,31),(538,25),(545.8,0),(717,0),(718.7,0.5),(757.4,0.5),(758,4),(784.8,4),(788,10),(792.8,4),(796,0),(886.4,0)]
CAP1_HELIUM = [(-0.3,30),(2.3,28),(4,0),(9.5,0),(12.7,3),(17,4),(19.6,10),(20.3,12),(21.9,0),(23.5,0),(25.1,6),(31.7,8),(35,10),(38.2,11.5),(41.5,12),(43.1,0),(68.2,0),(69.9,60),(79,60),(80.7,0),(111.7,0),(113.3,60),(116.6,10),(121.5,10),(126.4,0),(134.5,0),(136.2,15),(139.4,17),(149.2,18),(152.5,20),(159,22),(168.8,24),(175.3,23.5),(180.3,22),(181.9,0),(211.3,0),(212.9,60),(217.8,60),(219.5,40),(227.6,0),(244,0),(245.5,20),(248.8,13),(250.4,9),(252,7),(257,9),(260,13.5),(306,13.5),(309.2,4),(333.7,4),(335.3,14),(364.7,14),(366.3,10),(375,0),(377.8,5),(380.7,11),(413.7,10.5),
               (430,NAN),
               (453.6,11),(473.6,11),(476.8,10),(480,4),(483.3,8),(486.5,12),(489,0),(516,0),(517.1,20),(528.4,20),(531.6,13),(536.5,11),(542.9,10),(547.1,2),(550,1),(583,1),(583.5,3),(584,1),(600,0),(716,0),(717,1),(734.8,3),(757.4,3),(759,5.5),(784.8,5.5),(789.6,8),(796,0),(886.4,0)]
CAP1_INLET = [(-0.3,30),(2.3,28),(6.2,46),(8.2,30),(11.4,61),(20.3,60),(21.5,30),(23.5,30),(24.5,58),(41.5,58),(43.1,15),(68.2,15),(69.9,60.5),(79,60),(80.7,15),(95,15),(95.3,9),(95.7,15),(111.7,15),(113.3,60),(126.4,60),(128,15),(134.5,15),(136.2,60),(181.9,60),(183.5,15),(211.3,15),(212.9,60),(217.8,60),(222,10),(224.3,3),(226,0),(230,1),(232.5,3),(234.1,1),(236,4),(237.4,2),(239,5),(241.3,13),(243.9,15),(247.2,14),(250.4,15),(306,14),(307.6,11),(333.7,11),(335.3,15),(364.7,15),(366.3,11),(390.8,11),(395.7,2),(399,10),(413.7,11),
              (430,NAN),
              (453.6,10.5),(473.6,10.5),(475.2,11),(493,11),(517.1,40),(525.2,40),(528,53.5),(530,53.5),(531.6,43),(543.9,43),(545.2,10),(547.1,2),(551,1),(551.5,4),(552,1),(560,1),(560.5,5),(561,1),(567,1),(567.5,3),(568,1),(580,1),(581.6,4),(583,1),(592,1),(593,3),(594,1),(601,0.5),(628.4,3),(630,0),(716,0),(717.5,5),(721.5,8),(723.5,15),(725,8),(726.7,5),(784.8,5.5),(786.5,10),(788,15),(791.2,10),(796,0),(808,0),(809,0.5),(846,0.5),(847,0),(888,0)]
CAP1_OUTLET = [(-0.3,27.5),(4,27.5),(7.2,43),(8.8,28),(11.4,57.5),(20.3,57.5),(21.9,17),(23.5,17),(24.5,55.5),(41.5,55.5),(43.1,12.5),(68.2,12.5),(69.9,57.5),(79,57.5),(80.7,12.5),(111.7,12.5),(113.3,57.5),(126.4,57.5),(128,12.5),(134.5,12.5),(136.2,57.5),(162.3,57.5),(166.2,64),(167.2,57.5),(181.9,57.5),(183.5,12.5),(211.3,12.5),(212.9,58),(216.2,57),(218.4,40),(221,20),(224.3,10),(230,8),(237,9),(240.6,5),(242.3,13),(245.5,14),(248.8,12),(252,9),(257,12.5),(306,12.5),(309.2,9),(333.7,9),(335.3,12.5),(364.7,12.5),(368,9),(376.2,9),(377.8,11),(384.3,10.5),(390.8,10),(413.7,10.5),
               (430,NAN),
               (453.6,11.5),(473.6,11.5),(475.2,12),(477.4,60),(481.6,54),(484.9,51),(486.5,46),(488.1,20),(491.3,22),(494.5,20),(505.8,11),(517.1,6),(518.7,8),(522,8),(523.6,6),(526.8,7),(528.4,12),(531.6,20),(538.1,25),(541.3,30),(543.9,42),(546.1,15),(547.1,2),(565,2),(567.1,8),(570,3),(575,3),(576.1,20),(577,3),(580,3),(580.5,14),(586.5,14),(587.5,3),(591,3),(591.5,14),(596.1,14),(597.5,0),(886.4,0)]
CAP1_FPM = [(-0.3,30),(4,33),(5.6,40),(8.8,28),(11.4,28),(20.3,28.5),(21.9,31),(24.5,28.5),(31.7,29),(41.5,29.5),(43.1,14),(68.2,14),(69.9,28),(79,28),(80.7,14),(111.7,14),(113.3,45),(116.6,29),(126.4,28.5),(128,14),(134.5,14),(136.2,44),(139.4,29.5),(155.8,29.5),(165.5,30),(181.9,30),(183.5,14),(211.3,14),(214.5,50),(216.2,42),(221,15),(224.3,10),(232.5,10),(239,10),(240.6,12),(243.9,15),(250.4,14),(257,13.5),(306,13.5),(307.6,11),(333.7,11),(335.3,14.5),(364.7,14.5),(366.3,11),(377.8,17),(381.1,12),(394,12),(397.3,11.5),(413.7,11.5),
            (430,NAN),
            (453.6,12.5),(473.6,12.5),(475.2,13),(477.4,63),(480,58),(484.9,52),(488.1,44),(489.7,23),(494.5,22),(502.6,18),(512.3,10),(517.1,7),(522,8),(525.2,6.5),(528.4,10),(531.6,18),(536.5,24),(541.3,32),(543.9,43),(546.1,15),(547.8,1),(580,1),(580.5,15),(586.5,15),(587.5,1),(589.7,1),(590,15),(596.1,15),(597.5,0),(886.4,0.5)]

PANELS = [
    ("Capsule 5", [CAP5_NEON, CAP5_HELIUM, CAP5_INLET, CAP5_OUTLET, CAP5_FPM]),
    ("Capsule 4", [CAP4_NEON, CAP4_HELIUM, CAP4_INLET, CAP4_OUTLET, CAP4_FPM]),
    ("Capsule 3", [CAP3_NEON, CAP3_HELIUM, CAP3_INLET, CAP3_OUTLET, CAP3_FPM]),
    ("Capsule 2", [CAP2_NEON, CAP2_HELIUM, CAP2_INLET, CAP2_OUTLET, CAP2_FPM]),
    ("Capsule 1", [CAP1_NEON, CAP1_HELIUM, CAP1_INLET, CAP1_OUTLET, CAP1_FPM]),
]

BEIGE, GREY = "#f8f2e1", "#ebe9e4"
W, H = 1249, 1575


def tick_labels():
    out, prev_year = [], None
    for d in TICK_DAYS:
        day = START + dt.timedelta(days=d)
        lab = day.strftime("%d%b")
        if day.year != prev_year:
            lab += f"\n{day.year}"
            prev_year = day.year
        out.append(lab)
    return out


def draw_panel(ax, series, last):
    lo = X_LIM[0]
    for k, (end, lab) in enumerate(zip(CYCLE_ENDS, CYCLE_LABELS)):
        ax.axvspan(lo, end, color=BEIGE if k % 2 == 0 else GREY, lw=0, zorder=0)
        ax.text(end - 3.5, 85.3, lab, ha="right", va="center", fontsize=11,
                fontweight="bold", color="#222222", zorder=5)
        lo = end
    for y in range(0, 81, 10):
        ax.axhline(y, color="#e3dccb", lw=0.9, zorder=1)
    for pts, col in zip(series, COLORS):
        arr = np.array(pts, dtype=float)
        ax.plot(arr[:, 0], arr[:, 1], color=col, lw=1.4, zorder=3,
                solid_joinstyle="round")
    ax.set_xlim(*X_LIM)
    ax.set_ylim(*Y_LIM)
    ax.set_yticks(range(0, 81, 10))
    ax.tick_params(axis="y", length=5, width=0.8, color="#707070", labelsize=10.5,
                   labelcolor="#333333", pad=2)
    ax.set_xticks(TICK_DAYS)
    if last:
        ax.set_xticklabels(tick_labels())
        ax.tick_params(axis="x", length=5, width=0.8, color="#707070",
                       labelsize=10.5, labelcolor="#333333", pad=5)
        for d in EVENT_DAYS:
            ax.axvline(d, color="#e07522", lw=1.8, ls=(0, (3.5, 2.5)), zorder=4)
        for d, s in EVENT_NOTES:
            ax.text(d, 72, s, ha="center", va="center", fontsize=17,
                    family=["Lato", "DejaVu Sans"], color="#222222", zorder=5)
    else:
        ax.tick_params(axis="x", length=0, labelbottom=False)
    for sp in ax.spines.values():
        sp.set_color("#a0a0a0")
        sp.set_linewidth(1.0)


def main():
    fig = plt.figure(figsize=(W / 100, H / 100), dpi=100)
    left, width = 81.3 / W, (1206 - 81.3) / W
    height = 278 / H
    for i, (name, series) in enumerate(PANELS):
        zero = 325 + 283.6 * i
        bottom = 1 - (zero + 3) / H
        ax = fig.add_axes([left, bottom, width, height])
        draw_panel(ax, series, i == len(PANELS) - 1)
        strip = fig.add_axes([1217 / W, bottom, 22 / W, height])
        strip.set_facecolor("#fbfbfb")
        strip.set_xticks([])
        strip.set_yticks([])
        for sp in strip.spines.values():
            sp.set_color("#d4d4d4")
        strip.text(0.5, 0.5, name, rotation=90, ha="center", va="center",
                   fontsize=11.5, color="#333333", transform=strip.transAxes)

    fig.text(643.7 / W, 1 - 31.7 / H, "AGR-5/6/7 Capsule Gas Flow for all Cycles (Daily Averages)",
             ha="center", va="center", fontsize=13.5, fontweight="bold", color="#222222")
    fig.text(30 / W, 1 - 756 / H, "Capsule Gas Flows, SCCM", rotation=90,
             ha="center", va="center", fontsize=12, fontweight="bold", color="#222222")

    # legend box
    fig.patches.append(Rectangle((80.5 / W, 1 - 1553.3 / H), (1206.3 - 80.5) / W, 21.6 / H,
                                 transform=fig.transFigure, facecolor="white",
                                 edgecolor="#c8c8c8", lw=1.0, zorder=0))
    handles = [Line2D([], [], color=c, lw=1.4) for c in COLORS]
    fig.legend(handles, SERIES, loc="center", bbox_to_anchor=(675.5 / W, 1 - 1542.5 / H),
               ncol=5, frameon=False, fontsize=10.5, handlelength=4.4,
               handletextpad=0.7, columnspacing=1.1)
    fig.text(305 / W, 1 - 1542.5 / H, "Flow:", ha="right", va="center",
             fontsize=10.5, color="#333333")

    # outer graph border
    fig.patches.append(Rectangle((7 / W, 1 - 1571 / H), (1246 - 7) / W, (1571 - 5) / H,
                                 transform=fig.transFigure, fill=False,
                                 edgecolor="#d6d6d6", lw=1.0))
    fig.savefig("out.png", dpi=100, facecolor="white")
    plt.close(fig)


if __name__ == "__main__":
    main()
